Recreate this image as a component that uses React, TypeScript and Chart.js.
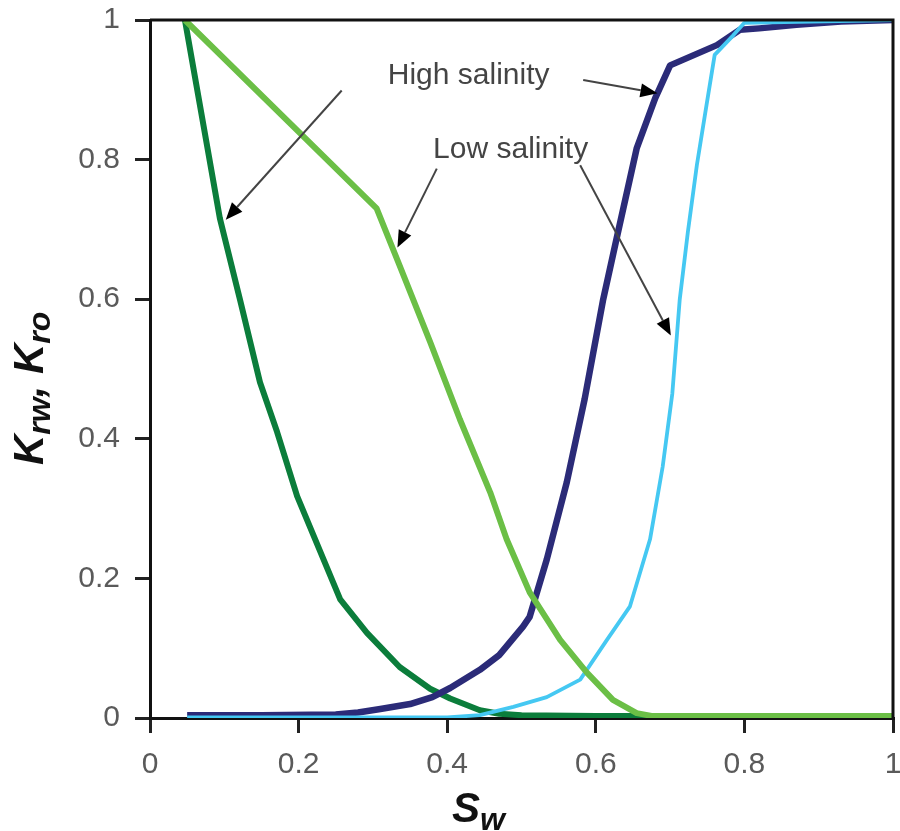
import React, { useEffect, useRef } from "react";
import { Chart, registerables } from "chart.js";

Chart.register(...registerables);

// Tick values on both axes
const tickValues = [0, 0.2, 0.4, 0.6, 0.8, 1];
const tickLabels = ["0", "0.2", "0.4", "0.6", "0.8", "1"];

// Kro, high salinity (dark green)
const kroHighSw = [0.047, 0.094, 0.121, 0.148, 0.171, 0.198, 0.256, 0.292, 0.336, 0.377, 0.404, 0.444, 0.47, 0.5, 0.6, 0.67];
const kroHighK = [1, 0.716, 0.6, 0.481, 0.41, 0.318, 0.17, 0.122, 0.073, 0.042, 0.028, 0.011, 0.006, 0.004, 0.003, 0.003];

// Kro, low salinity (light green)
const kroLowSw = [0.047, 0.305, 0.336, 0.377, 0.417, 0.458, 0.48, 0.511, 0.552, 0.588, 0.623, 0.655, 0.675, 1];
const kroLowK = [1, 0.73, 0.648, 0.539, 0.428, 0.323, 0.256, 0.18, 0.112, 0.065, 0.026, 0.007, 0.003, 0.003];

// Krw, high salinity (navy)
const krwHighSw = [0.05, 0.15, 0.25, 0.28, 0.31, 0.35, 0.38, 0.404, 0.444, 0.47, 0.502, 0.511, 0.534, 0.561, 0.585, 0.61, 0.628, 0.655, 0.68, 0.7, 0.763, 0.794, 0.82, 0.87, 0.93, 1];
const krwHighK = [0.004, 0.004, 0.005, 0.008, 0.013, 0.02, 0.03, 0.043, 0.069, 0.09, 0.131, 0.145, 0.227, 0.338, 0.457, 0.6, 0.687, 0.816, 0.888, 0.935, 0.964, 0.986, 0.988, 0.993, 0.998, 1];

// Krw, low salinity (light blue)
const krwLowSw = [0.05, 0.4, 0.444, 0.489, 0.534, 0.579, 0.615, 0.646, 0.673, 0.69, 0.703, 0.713, 0.724, 0.736, 0.749, 0.76, 0.785, 0.8, 1];
const krwLowK = [0.001, 0.001, 0.004, 0.016, 0.03, 0.055, 0.112, 0.16, 0.256, 0.36, 0.465, 0.6, 0.697, 0.792, 0.878, 0.95, 0.978, 0.996, 1];

// Annotation texts (data coordinates of left/baseline)
const annotationTexts = ["High salinity", "Low salinity"];
const annotationTextX = [0.32, 0.381];
const annotationTextY = [0.909, 0.802];

// Arrows: start -> tip, data coordinates
const arrowStartX = [0.583, 0.258, 0.386, 0.579];
const arrowStartY = [0.914, 0.899, 0.787, 0.792];
const arrowTipX = [0.683, 0.102, 0.333, 0.701];
const arrowTipY = [0.895, 0.714, 0.674, 0.548];

const toPts = (xs: number[], ys: number[]) => xs.map((x, i) => ({ x, y: ys[i] }));

const FONT = "'Liberation Sans', Arial, sans-serif";

const overlayPlugin = {
  id: "overlay",
  afterDatasetsDraw(chart: any) {
    const ctx = chart.ctx as CanvasRenderingContext2D;
    const { left, right, top, bottom } = chart.chartArea;
    const xs = chart.scales.x;
    const ys = chart.scales.y;
    ctx.save();
    // frame top & right
    ctx.strokeStyle = "#111";
    ctx.lineWidth = 3;
    ctx.beginPath();
    ctx.moveTo(left, top);
    ctx.lineTo(right, top);
    ctx.lineTo(right, bottom);
    ctx.stroke();

    // annotation texts
    ctx.fillStyle = "#444";
    ctx.font = `30px ${FONT}`;
    ctx.textBaseline = "alphabetic";
    ctx.textAlign = "left";
    annotationTexts.forEach((t, i) => {
      ctx.fillText(t, xs.getPixelForValue(annotationTextX[i]), ys.getPixelForValue(annotationTextY[i]));
    });

    // arrows
    arrowStartX.forEach((_, i) => {
      const x0 = xs.getPixelForValue(arrowStartX[i]);
      const y0 = ys.getPixelForValue(arrowStartY[i]);
      const x1 = xs.getPixelForValue(arrowTipX[i]);
      const y1 = ys.getPixelForValue(arrowTipY[i]);
      const ang = Math.atan2(y1 - y0, x1 - x0);
      const hl = 17;
      const hw = 7;
      const bx = x1 - hl * Math.cos(ang);
      const by = y1 - hl * Math.sin(ang);
      ctx.strokeStyle = "#444";
      ctx.lineWidth = 2;
      ctx.beginPath();
      ctx.moveTo(x0, y0);
      ctx.lineTo(bx, by);
      ctx.stroke();
      ctx.fillStyle = "#000";
      ctx.beginPath();
      ctx.moveTo(x1, y1);
      ctx.lineTo(bx + hw * Math.sin(ang), by - hw * Math.cos(ang));
      ctx.lineTo(bx - hw * Math.sin(ang), by + hw * Math.cos(ang));
      ctx.closePath();
      ctx.fill();
    });

    // axis titles with subscripts
    const mainFont = `italic bold 42px ${FONT}`;
    const subFont = `italic bold 32px ${FONT}`;
    const drawParts = (parts: { t: string; sub: boolean }[], subOffset: number) => {
      let x = 0;
      parts.forEach((p) => {
        ctx.font = p.sub ? subFont : mainFont;
        ctx.fillText(p.t, x, p.sub ? subOffset : 0);
        x += ctx.measureText(p.t).width;
      });
    };
    ctx.fillStyle = "#111";
    // x title
    ctx.save();
    ctx.translate(left + 302, bottom + 104);
    drawParts([{ t: "S", sub: false }, { t: "w", sub: true }], 8);
    ctx.restore();
    // y title
    ctx.save();
    ctx.translate(43, bottom - 253);
    ctx.rotate(-Math.PI / 2);
    drawParts(
      [
        { t: "K", sub: false },
        { t: "rw", sub: true },
        { t: ", ", sub: false },
        { t: "K", sub: false },
        { t: "ro", sub: true },
      ],
      7
    );
    ctx.restore();
    ctx.restore();
  },
};

export default function App() {
  const canvasRef = useRef<HTMLCanvasElement | null>(null);

  useEffect(() => {
    const canvas = canvasRef.current;
    if (!canvas) return;
    const axisCommon = (isX: boolean) => ({
      type: "linear" as const,
      min: 0,
      max: 1,
      afterBuildTicks: (scale: any) => {
        scale.ticks = tickValues.map((v) => ({ value: v }));
      },
      afterFit: (scale: any) => {
        if (isX) scale.height = 113;
        else scale.width = 150;
        scale.paddingTop = 0;
        scale.paddingBottom = 0;
        scale.paddingLeft = 0;
        scale.paddingRight = 0;
      },
      grid: {
        drawOnChartArea: false,
        drawTicks: true,
        tickLength: 15,
        lineWidth: 3,
        color: "#222",
      },
      border: { display: true, color: "#111", width: 3 },
      ticks: {
        color: "#5a5a5a",
        font: { size: 30, family: FONT },
        padding: isX ? 14 : 15,
        maxRotation: 0,
        autoSkip: false,
        callback: (v: any) => {
          const idx = tickValues.findIndex((t) => Math.abs(t - v) < 1e-9);
          return idx >= 0 ? tickLabels[idx] : "";
        },
      },
    });

    const chart = new Chart(canvas, {
      type: "scatter",
      data: {
        datasets: [
          {
            label: "Kro low salinity",
            data: toPts(kroLowSw, kroLowK),
            borderColor: "#6bbf46",
            borderWidth: 6,
          },
          {
            label: "Krw low salinity",
            data: toPts(krwLowSw, krwLowK),
            borderColor: "#45c8f2",
            borderWidth: 3.8,
          },
          {
            label: "Krw high salinity",
            data: toPts(krwHighSw, krwHighK),
            borderColor: "#2b2b78",
            borderWidth: 6.5,
          },
          {
            label: "Kro high salinity",
            data: toPts(kroHighSw, kroHighK),
            borderColor: "#0b7d3b",
            borderWidth: 6,
          },
        ].map((d) => ({
          ...d,
          showLine: true,
          pointRadius: 0,
          pointHoverRadius: 0,
          fill: false,
          tension: 0,
          borderJoinStyle: "round" as const,
        })),
      },
      options: {
        responsive: false,
        animation: false,
        devicePixelRatio: 1,
        layout: { padding: { top: 20, right: 7, left: 0, bottom: 0 } },
        plugins: {
          legend: { display: false },
          tooltip: { enabled: false },
          title: { display: false },
        },
        events: [],
        scales: {
          x: axisCommon(true),
          y: axisCommon(false),
        },
      },
      plugins: [overlayPlugin],
    });
    return () => chart.destroy();
  }, []);

  return (
    <div style={{ position: "fixed", left: 0, top: 0, width: 900, height: 831, background: "#fff" }}>
      <canvas ref={canvasRef} width={900} height={831} style={{ width: 900, height: 831, display: "block" }} />
    </div>
  );
}
